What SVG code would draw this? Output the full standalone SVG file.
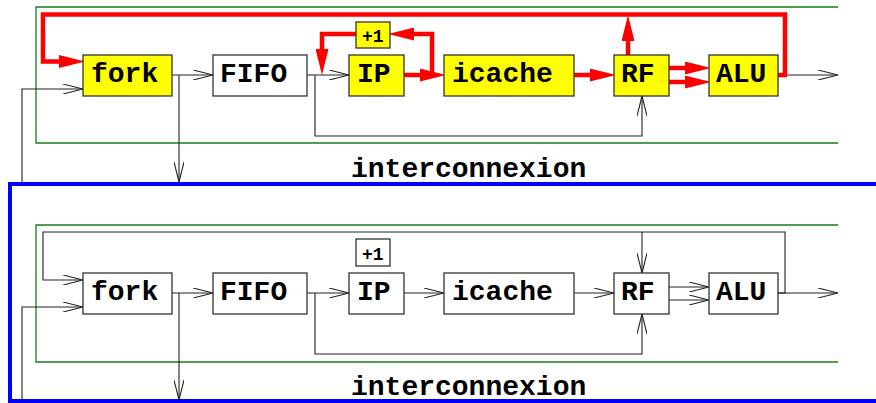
<svg xmlns="http://www.w3.org/2000/svg" width="876" height="403" viewBox="0 0 876 403">
  <style>
    .box { stroke: #333; stroke-width: 1.3; }
    .on { fill: #ffff00; }
    .off { fill: #ffffff; }
    .lbl { font-family: "Liberation Mono", "DejaVu Sans Mono", monospace; font-weight: bold; font-size: 28px; fill: #000; }
    .small { font-size: 18px; }
    .wire { fill: none; stroke: #222; stroke-width: 1.1; }
    .hot { fill: none; stroke: #ff0000; stroke-width: 4.5; }
    .frame { fill: none; stroke: #138013; stroke-width: 1.3; }
  </style>
  <defs>
    <marker id="open" markerUnits="userSpaceOnUse" viewBox="0 0 20 10" refX="20" refY="5" markerWidth="20" markerHeight="10" orient="auto">
      <path d="M0,0 L20,5 L0,10" fill="none" stroke="#222" stroke-width="1.1"/>
    </marker>
    <marker id="solid" markerUnits="userSpaceOnUse" viewBox="0 0 26 13" refX="8" refY="6.5" markerWidth="26" markerHeight="13" orient="auto">
      <path d="M0,0 L26,6.5 L0,13 z" fill="#ff0000"/>
    </marker>
  </defs>

  <!-- bus framing -->
  <rect x="10" y="184" width="900" height="217" fill="none" stroke="#0000ff" stroke-width="4"/>
  <path class="frame" d="M838,7 H36 V143 H838"/>
  <path class="frame" d="M838,225 H36 V362 H838"/>
  <text class="lbl" x="351" y="177">interconnexion</text>
  <text class="lbl" x="351" y="395">interconnexion</text>

  <g id="connectors">
    <!-- upper pipeline, plain wires -->
    <path class="wire" d="M172,75 H213" marker-end="url(#open)"/>
    <path class="wire" d="M179,75 V182" marker-end="url(#open)"/>
    <path class="wire" d="M22,183 V89 H83" marker-end="url(#open)"/>
    <path class="wire" d="M307,75 H349" marker-end="url(#open)"/>
    <path class="wire" d="M315,75 V136 H642 V96" marker-end="url(#open)"/>
    <path class="wire" d="M778,75 H838" marker-end="url(#open)"/>
    <!-- upper pipeline, active path -->
    <path class="hot" d="M778,75 H785 V14.5 H43 V61.5 H67" marker-end="url(#solid)"/>
    <path class="hot" d="M628,55 V33" marker-end="url(#solid)"/>
    <path class="hot" d="M404,75 H428" marker-end="url(#solid)"/>
    <path class="hot" d="M432,75 V34 H406" marker-end="url(#solid)"/>
    <path class="hot" d="M356,34 H322 V57" marker-end="url(#solid)"/>
    <path class="hot" d="M574,75 H598" marker-end="url(#solid)"/>
    <path class="hot" d="M669,68 H693" marker-end="url(#solid)"/>
    <path class="hot" d="M669,82 H693" marker-end="url(#solid)"/>

    <!-- lower pipeline -->
    <path class="wire" d="M778,293 H785 V232 H43 V280 H83" marker-end="url(#open)"/>
    <path class="wire" d="M642,232 V273" marker-end="url(#open)"/>
    <path class="wire" d="M22,401 V307 H83" marker-end="url(#open)"/>
    <path class="wire" d="M172,293 H213" marker-end="url(#open)"/>
    <path class="wire" d="M179,293 V400" marker-end="url(#open)"/>
    <path class="wire" d="M307,293 H349" marker-end="url(#open)"/>
    <path class="wire" d="M315,293 V354 H642 V314" marker-end="url(#open)"/>
    <path class="wire" d="M404,293 H444" marker-end="url(#open)"/>
    <path class="wire" d="M574,293 H614" marker-end="url(#open)"/>
    <path class="wire" d="M669,287 H709" marker-end="url(#open)"/>
    <path class="wire" d="M669,300 H709" marker-end="url(#open)"/>
    <path class="wire" d="M778,293 H838" marker-end="url(#open)"/>
  </g>

  <!-- upper pipeline stages -->
  <g id="fork1"><rect class="box on" x="83" y="55" width="89" height="41"/><text class="lbl" x="91" y="82">fork</text></g>
  <g id="fifo1"><rect class="box off" x="213" y="55" width="94" height="41"/><text class="lbl" x="220" y="82">FIFO</text></g>
  <g id="inc1"><rect class="box on" x="356" y="22" width="34" height="26"/><text class="lbl small" x="362" y="42">+1</text></g>
  <g id="ip1"><rect class="box on" x="349" y="55" width="55" height="41"/><text class="lbl" x="357" y="82">IP</text></g>
  <g id="icache1"><rect class="box on" x="444" y="55" width="130" height="41"/><text class="lbl" x="452" y="82">icache</text></g>
  <g id="rf1"><rect class="box on" x="614" y="55" width="55" height="41"/><text class="lbl" x="621" y="82">RF</text></g>
  <g id="alu1"><rect class="box on" x="709" y="55" width="69" height="41"/><text class="lbl" x="716" y="82">ALU</text></g>

  <!-- lower pipeline stages -->
  <g id="fork2"><rect class="box off" x="83" y="273" width="89" height="41"/><text class="lbl" x="91" y="300">fork</text></g>
  <g id="fifo2"><rect class="box off" x="213" y="273" width="94" height="41"/><text class="lbl" x="220" y="300">FIFO</text></g>
  <g id="inc2"><rect class="box off" x="356" y="239" width="34" height="27"/><text class="lbl small" x="362" y="260">+1</text></g>
  <g id="ip2"><rect class="box off" x="349" y="273" width="55" height="41"/><text class="lbl" x="357" y="300">IP</text></g>
  <g id="icache2"><rect class="box off" x="444" y="273" width="130" height="41"/><text class="lbl" x="452" y="300">icache</text></g>
  <g id="rf2"><rect class="box off" x="614" y="273" width="55" height="41"/><text class="lbl" x="621" y="300">RF</text></g>
  <g id="alu2"><rect class="box off" x="709" y="273" width="69" height="41"/><text class="lbl" x="716" y="300">ALU</text></g>
</svg>
